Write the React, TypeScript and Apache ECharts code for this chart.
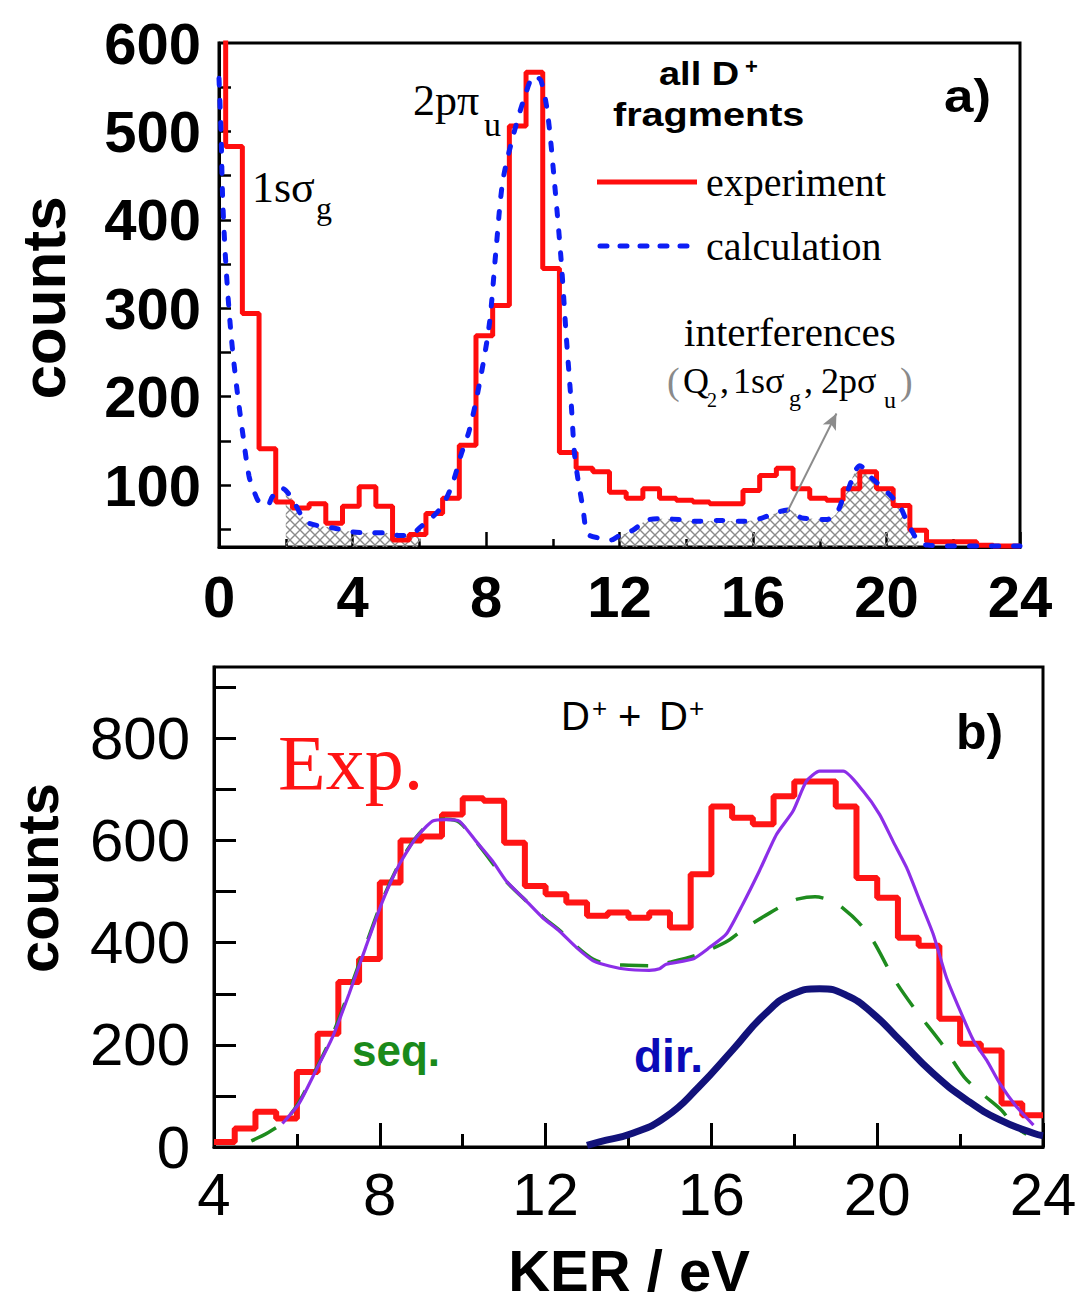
import { useEffect, useRef } from 'react';
import * as echarts from 'echarts';

const SANS = '"Liberation Sans", Arial, Helvetica, sans-serif';
const SERIF = '"Liberation Serif", "Times New Roman", Times, serif';

// ---------- panel a) all D+ fragments ----------
// experiment: histogram bins (left edges, 0.5 eV wide) and counts
const aBinLeft = [
  -0.3, 0.2, 0.7, 1.2, 1.7, 2.2, 2.7, 3.2, 3.7, 4.2, 4.7, 5.2, 5.7, 6.2, 6.7, 7.2, 7.7,
  8.2, 8.7, 9.2, 9.7, 10.2, 10.7, 11.2, 11.7, 12.2, 12.7, 13.2, 13.7, 14.2, 14.7, 15.2,
  15.7, 16.2, 16.7, 17.2, 17.7, 18.2, 18.7, 19.2, 19.7, 20.2, 20.7, 21.2, 21.7, 22.2,
  22.7, 23.2, 23.7,
];
const aCounts = [
  750, 483, 294, 141, 81, 74, 79, 57, 76, 98, 76, 38, 44, 68, 85, 145, 269, 303, 506, 567,
  345, 137, 119, 115, 92, 85, 96, 85, 83, 81, 79, 79, 94, 111, 119, 96, 85, 83, 96, 115,
  96, 77, 49, 36, 36, 36, 32, 31, 31,
];
const aBinEnd = 24;

// calculation curve
const aCalcKer = [
  0.0, 0.06, 0.11, 0.21, 0.36, 0.52, 0.72, 0.9, 1.05, 1.2, 1.45, 1.6, 1.85, 2.0, 2.25,
  2.45, 2.7, 3.0, 3.5, 4.0, 4.5, 5.0, 5.4, 5.7, 6.05, 6.4, 6.7, 7.0, 7.25, 7.5, 7.8, 8.1,
  8.3, 8.5, 8.8, 9.15, 9.45, 9.65, 9.85, 10.05, 10.25, 10.4, 10.55, 10.65, 10.75, 10.9,
  11.05, 11.4, 11.75, 12.0, 12.4, 12.8, 13.2, 13.8, 14.3, 15.0, 15.7, 16.2, 16.5, 16.8,
  17.1, 17.45, 17.8, 18.2, 18.5, 18.7, 18.85, 19.05, 19.2, 19.5, 19.85, 20.1, 20.4, 20.6,
  20.75, 21.0, 21.3, 21.8, 24.0,
];
const aCalcCounts = [
  560, 500, 424, 347, 271, 214, 156, 110, 93, 81, 77, 87, 97, 94, 81, 67, 57, 54, 51, 47,
  46, 46, 43, 43, 53, 64, 77, 102, 134, 162, 214, 282, 366, 443, 493, 538, 563, 557, 519,
  443, 355, 271, 194, 136, 108, 75, 45, 40, 38, 43, 49, 60, 62, 61, 59, 60, 59, 62, 66,
  70, 72, 63, 62, 61, 68, 85, 95, 115, 122, 110, 98, 89, 76, 60, 49, 34, 32, 31, 31,
];

// KER ranges shaded as interference regions
const aHatchRanges = [
  [2.0, 6.05],
  [12.0, 21.0],
];
// annotation arrow (KER, counts)
const aArrowFrom = [17.03, 70];
const aArrowTo = [18.5, 181];

const aYLabelValues = [100, 200, 300, 400, 500, 600];
const aYTickValues = [50, 100, 150, 200, 250, 300, 350, 400, 450, 500, 550];

// ---------- panel b) D+ + D+ coincidences ----------
const bBinLeft = [
  4.0, 4.5, 5.0, 5.5, 6.0, 6.5, 7.0, 7.5, 8.0, 8.5, 9.0, 9.5, 10.0, 10.5, 11.0, 11.5,
  12.0, 12.5, 13.0, 13.5, 14.0, 14.5, 15.0, 15.5, 16.0, 16.5, 17.0, 17.5, 18.0, 18.5,
  19.0, 19.5, 20.0, 20.5, 21.0, 21.5, 22.0, 22.5, 23.0, 23.5,
];
const bCounts = [
  10, 36, 69, 56, 147, 222, 323, 368, 518, 600, 608, 651, 683, 678, 596, 511, 495, 479,
  453, 459, 449, 459, 430, 534, 667, 645, 632, 687, 716, 716, 667, 527, 488, 410, 394,
  251, 202, 189, 85, 62,
];
const bBinEnd = 24;

// total calculation
const bTotalKer = [
  5.65, 6.05, 6.46, 6.86, 7.26, 7.66, 8.07, 8.47, 8.87, 9.27, 9.6, 9.92, 10.32, 10.72,
  11.05, 11.53, 11.93, 12.33, 12.74, 13.14, 13.38, 13.86, 14.5, 14.75, 14.91, 15.55,
  15.96, 16.36, 16.76, 17.16, 17.57, 17.97, 18.29, 18.61, 19.18, 19.66, 20.06, 20.38,
  20.71, 21.03, 21.35, 21.67, 22.0, 22.32, 22.64, 22.96, 23.36, 23.77,
];
const bTotalCounts = [
  46, 85, 150, 215, 300, 391, 482, 553, 605, 638, 641, 638, 599, 560, 521, 482, 449, 423,
  391, 365, 358, 349, 346, 349, 358, 368, 391, 417, 476, 541, 612, 658, 716, 736, 736,
  697, 651, 599, 547, 482, 417, 332, 267, 209, 170, 124, 79, 43,
];

// sequential contribution
const bSeqKer = [
  4.9, 5.3, 5.7, 6.05, 6.46, 6.86, 7.26, 7.66, 8.07, 8.47, 8.87, 9.27, 9.6, 9.92, 10.32,
  10.72, 11.05, 11.53, 11.93, 12.33, 12.74, 13.14, 13.5, 14.0, 14.6, 15.0, 15.6, 16.0,
  16.4, 16.8, 17.4, 17.8, 18.1, 18.5, 18.9, 19.2, 19.55, 19.9, 20.4, 20.9, 21.55, 22.1,
  22.55, 23.0, 23.3, 23.6,
];
const bSeqCounts = [
  12, 28, 50, 88, 152, 220, 305, 395, 485, 555, 606, 638, 642, 636, 598, 556, 520, 482,
  451, 425, 393, 368, 358, 356, 355, 362, 375, 388, 404, 428, 458, 476, 486, 490, 482,
  466, 440, 404, 330, 271, 203, 137, 103, 72, 42, 25,
];

// direct contribution
const bDirKer = [
  13.0, 13.3, 14.1, 14.9, 15.7, 16.5, 17.3, 17.97, 18.61, 19.26, 19.9, 20.55, 21.35,
  22.16, 22.96, 23.77, 24.0,
];
const bDirCounts = [3, 10, 27, 59, 118, 189, 261, 300, 310, 297, 261, 209, 144, 92, 53, 27, 22];

const bYLabelValues = [0, 200, 400, 600, 800];
const bYTickValues = [0, 100, 200, 300, 400, 500, 600, 700, 800, 900];

// ---------- helpers ----------
const pairs = (xs: number[], ys: number[]) => xs.map((x, i) => [x, ys[i]]);
const stepData = (left: number[], counts: number[], end: number) =>
  pairs(left, counts).concat([[end, counts[counts.length - 1]]]);

function hatchPattern() {
  const c = document.createElement('canvas');
  c.width = 10;
  c.height = 10;
  const g = c.getContext('2d')!;
  g.strokeStyle = '#8a8a8a';
  g.lineWidth = 1.4;
  g.beginPath();
  g.moveTo(-1, -1);
  g.lineTo(11, 11);
  g.moveTo(11, -1);
  g.lineTo(-1, 11);
  g.stroke();
  return { image: c.toDataURL(), repeat: 'repeat', imageWidth: 10, imageHeight: 10 };
}

type TxtOpt = {
  family?: string;
  weight?: string;
  color?: string;
  align?: string;
  scaleX?: number;
  rotation?: number;
};
function txt(text: string, x: number, y: number, size: number, o: TxtOpt = {}) {
  const align = o.align ?? 'left';
  return {
    type: 'text',
    x,
    y,
    z: 100,
    silent: true,
    scaleX: o.scaleX ?? 1,
    rotation: o.rotation ?? 0,
    style: {
      text,
      fontSize: size,
      fontFamily: o.family ?? SANS,
      fontWeight: o.weight ?? 'normal',
      fill: o.color ?? '#000',
      align,
      verticalAlign: 'middle',
      textAlign: align,
      textVerticalAlign: 'middle',
    },
  };
}

const BLACK = '#000';
const frameLine = { show: true, onZero: false, lineStyle: { color: BLACK, width: 3 } };

function buildOption() {
  const pattern = hatchPattern();
  const hatchSeries = aHatchRanges.map(([lo, hi]) => ({
    type: 'line',
    xAxisIndex: 0,
    yAxisIndex: 0,
    data: pairs(aCalcKer, aCalcCounts).filter((p) => p[0] >= lo && p[0] <= hi),
    smooth: 0.3,
    symbol: 'none',
    silent: true,
    z: 1,
    lineStyle: { width: 0, opacity: 0 },
    areaStyle: { color: pattern, opacity: 1 },
  }));

  const serifA = { family: SERIF };
  const graphics: any[] = [
    // panel a annotations
    txt('2pπ', 413, 100, 44, serifA),
    txt('u', 484, 124, 34, serifA),
    txt('1sσ', 252, 187, 44, serifA),
    txt('g', 316, 208, 32, serifA),
    txt('all D', 659, 74, 33, { weight: 'bold', scaleX: 1.15 }),
    txt('+', 745, 66, 22, { weight: 'bold' }),
    txt('fragments', 613, 115, 33, { weight: 'bold', scaleX: 1.2 }),
    txt('a)', 944, 96, 46, { weight: 'bold', scaleX: 1.15 }),
    {
      type: 'line',
      z: 100,
      shape: { x1: 597, y1: 182, x2: 697, y2: 182 },
      style: { stroke: '#ff0d0d', lineWidth: 5 },
    },
    {
      type: 'line',
      z: 100,
      shape: { x1: 600, y1: 246, x2: 697, y2: 246 },
      style: { stroke: '#0d1ef5', lineWidth: 5, lineDash: [7, 13], lineCap: 'round' },
    },
    txt('experiment', 706, 182, 40, serifA),
    txt('calculation', 706, 246, 40, serifA),
    txt('interferences', 684, 332, 41, serifA),
    txt('(', 667, 381, 38, { family: SERIF, color: '#8a8a8a' }),
    txt('Q', 683, 381, 36, serifA),
    txt('2', 707, 400, 20, serifA),
    txt(',', 720, 381, 36, serifA),
    txt('1sσ', 733, 381, 36, serifA),
    txt('g', 789, 398, 24, serifA),
    txt(',', 804, 381, 36, serifA),
    txt('2pσ', 821, 381, 36, serifA),
    txt('u', 884, 400, 24, serifA),
    txt(')', 900, 381, 38, { family: SERIF, color: '#8a8a8a' }),
    txt('counts', 43, 298, 62, { weight: 'bold', align: 'center', rotation: Math.PI / 2 }),

    // panel b annotations
    txt('Exp.', 278, 762, 78, { family: SERIF, color: '#ff1414' }),
    txt('D', 561, 716, 40),
    txt('+', 592, 708, 26),
    txt('+', 618, 716, 40),
    txt('D', 659, 716, 40),
    txt('+', 689, 708, 26),
    txt('b)', 956, 732, 50, { weight: 'bold' }),
    txt('seq.', 352, 1050, 44, { weight: 'bold', color: '#1a8a1a' }),
    txt('dir.', 634, 1056, 46, { weight: 'bold', color: '#0a0ab8' }),
    txt('counts', 37, 878, 58, { weight: 'bold', align: 'center', rotation: Math.PI / 2 }),
    txt('KER / eV', 629, 1270, 58, { weight: 'bold', align: 'center' }),
  ];

  return {
    animation: false,
    backgroundColor: '#fff',
    grid: [
      { left: 219, top: 43, width: 801, height: 504, show: true, borderColor: BLACK, borderWidth: 3, backgroundColor: 'transparent' },
      { left: 214, top: 667, width: 829, height: 480, show: true, borderColor: BLACK, borderWidth: 3, backgroundColor: 'transparent' },
    ],
    xAxis: [
      {
        gridIndex: 0,
        type: 'value',
        min: 0,
        max: 24,
        interval: 4,
        axisLine: frameLine,
        axisTick: { show: true, inside: true, length: 15, lineStyle: { color: BLACK, width: 2.5 } },
        minorTick: { show: true, splitNumber: 2, length: 8, lineStyle: { color: BLACK, width: 2.5 } },
        splitLine: { show: false },
        minorSplitLine: { show: false },
        axisLabel: { fontFamily: SANS, fontWeight: 'bold', fontSize: 58, color: BLACK, margin: 20 },
      },
      {
        gridIndex: 1,
        type: 'value',
        min: 4,
        max: 24,
        interval: 4,
        axisLine: frameLine,
        axisTick: { show: true, inside: true, length: 24, lineStyle: { color: BLACK, width: 3 } },
        minorTick: { show: true, splitNumber: 2, length: 13, lineStyle: { color: BLACK, width: 3 } },
        splitLine: { show: false },
        minorSplitLine: { show: false },
        axisLabel: { fontFamily: SANS, fontSize: 60, color: BLACK, margin: 17 },
      },
    ],
    yAxis: [
      {
        gridIndex: 0,
        type: 'value',
        min: 30,
        max: 600,
        axisLine: frameLine,
        axisTick: {
          show: true,
          inside: true,
          length: 12,
          customValues: aYTickValues,
          lineStyle: { color: BLACK, width: 2.5 },
        },
        splitLine: { show: false },
        axisLabel: {
          customValues: aYLabelValues,
          fontFamily: SANS,
          fontWeight: 'bold',
          fontSize: 58,
          color: BLACK,
          margin: 18,
        },
      },
      {
        gridIndex: 1,
        type: 'value',
        min: 0,
        max: 940,
        axisLine: frameLine,
        axisTick: {
          show: true,
          inside: true,
          length: 22,
          customValues: bYTickValues,
          lineStyle: { color: BLACK, width: 3 },
        },
        splitLine: { show: false },
        axisLabel: {
          customValues: bYLabelValues,
          fontFamily: SANS,
          fontSize: 60,
          color: BLACK,
          margin: 24,
        },
      },
    ],
    series: [
      ...hatchSeries,
      {
        name: 'experiment',
        type: 'line',
        xAxisIndex: 0,
        yAxisIndex: 0,
        step: 'end',
        data: stepData(aBinLeft, aCounts, aBinEnd),
        symbol: 'none',
        z: 3,
        lineStyle: { color: '#ff0d0d', width: 5 },
      },
      {
        name: 'calculation',
        type: 'line',
        xAxisIndex: 0,
        yAxisIndex: 0,
        data: pairs(aCalcKer, aCalcCounts),
        smooth: 0.3,
        symbol: 'none',
        z: 4,
        lineStyle: { color: '#0d1ef5', width: 5, type: [7, 15], cap: 'round' },
        markLine: {
          silent: true,
          symbol: ['none', 'arrow'],
          symbolSize: [11, 16],
          label: { show: false },
          lineStyle: { color: '#8c8c8c', width: 2, type: 'solid' },
          data: [[{ coord: aArrowFrom }, { coord: aArrowTo }]],
        },
      },
      {
        name: 'Exp.',
        type: 'line',
        xAxisIndex: 1,
        yAxisIndex: 1,
        step: 'end',
        data: stepData(bBinLeft, bCounts, bBinEnd),
        symbol: 'none',
        z: 2,
        lineStyle: { color: '#ff1414', width: 6 },
      },
      {
        name: 'seq.',
        type: 'line',
        xAxisIndex: 1,
        yAxisIndex: 1,
        data: pairs(bSeqKer, bSeqCounts),
        smooth: 0.3,
        symbol: 'none',
        z: 3,
        lineStyle: { color: '#1e8c1e', width: 3.5, type: [28, 20] },
      },
      {
        name: 'total',
        type: 'line',
        xAxisIndex: 1,
        yAxisIndex: 1,
        data: pairs(bTotalKer, bTotalCounts),
        smooth: 0.2,
        symbol: 'none',
        z: 4,
        lineStyle: { color: '#8c2ee8', width: 3.2 },
      },
      {
        name: 'dir.',
        type: 'line',
        xAxisIndex: 1,
        yAxisIndex: 1,
        data: pairs(bDirKer, bDirCounts),
        smooth: true,
        symbol: 'none',
        z: 5,
        lineStyle: { color: '#12127a', width: 7 },
      },
    ],
    graphic: { elements: graphics },
  };
}

export default function App() {
  const ref = useRef<HTMLDivElement>(null);
  useEffect(() => {
    document.body.style.margin = '0';
    const chart = echarts.init(ref.current!, null, { renderer: 'svg' });
    chart.setOption(buildOption() as any);
    return () => chart.dispose();
  }, []);
  return (
    <div
      ref={ref}
      style={{ position: 'absolute', left: 0, top: 0, width: 1082, height: 1304, background: '#fff' }}
    />
  );
}
